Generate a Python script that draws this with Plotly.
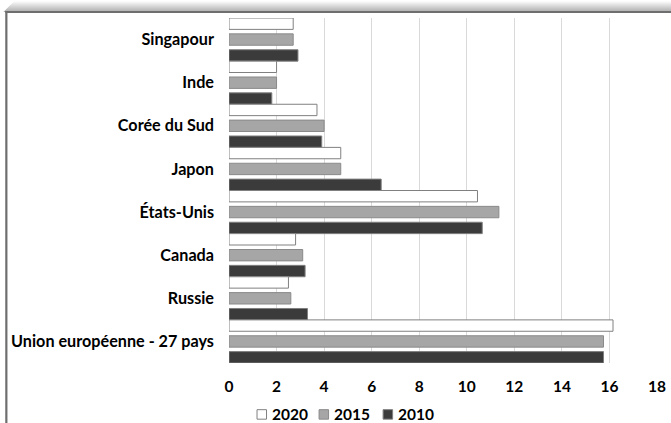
import plotly.graph_objects as go

# Pays (du bas vers le haut de l'axe)
pays = ["Union européenne - 27 pays", "Russie", "Canada", "États-Unis",
        "Japon", "Corée du Sud", "Inde", "Singapour"]

# Valeurs par année, même ordre que `pays`
v2010 = [15.75, 3.3, 3.2, 10.65, 6.4, 3.9, 1.8, 2.9]
v2015 = [15.75, 2.6, 3.1, 11.35, 4.7, 4.0, 2.0, 2.7]
v2020 = [16.15, 2.5, 2.8, 10.45, 4.7, 3.7, 2.0, 2.7]

annees = ["2010", "2015", "2020"]
series = [v2010, v2015, v2020]
fills = ["#3b3b3b", "#a6a6a6", "#ffffff"]
edges = ["#7f7f7f", "#8a8a8a", "#808080"]
offsets = [-0.5, -0.132, 0.236]
bar_w = 0.264

FONT = "Lato"
FS = 15.5

fig = go.Figure()
for name, vals, fc, ec, off in zip(annees, series, fills, edges, offsets):
    fig.add_trace(go.Bar(
        y=pays, x=vals, name=name, orientation="h",
        marker=dict(color=fc, line=dict(color=ec, width=1)),
        offset=off, width=bar_w, showlegend=False,
    ))

# Plot area geometry in pixels (used for frame and legend placement)
W, H = 671, 423
L, R, T, B = 229, 14.3, 18, 59.5
pw, ph = W - L - R, H - T - B


def px_x(x):
    return (x - L) / pw


def px_y(y):
    return (H - B - y) / ph


shapes = []
annotations = []
# soft shadow above the top border
for i in range(11):
    y0 = 1 + i
    op = 0.03 + 0.055 * i
    shapes.append(dict(type="rect", xref="paper", yref="paper",
                       x0=px_x(14 - i), x1=px_x(W + 5),
                       y0=px_y(y0 + 1), y1=px_y(y0),
                       fillcolor=f"rgba(120,120,120,{op:.2f})",
                       line=dict(width=0), layer="above"))
# top border
shapes.append(dict(type="line", xref="paper", yref="paper",
                   x0=px_x(5.5), x1=px_x(W + 5), y0=px_y(12), y1=px_y(12),
                   line=dict(color="#6e6e6e", width=2.2), layer="above"))
# left border
shapes.append(dict(type="line", xref="paper", yref="paper",
                   x0=px_x(6.5), x1=px_x(6.5), y0=px_y(11), y1=px_y(H + 5),
                   line=dict(color="#6e6e6e", width=2.2), layer="above"))

# legend: square swatch followed by the year, newest first
leg_y = 415
leg_x = [257, 319, 383]
sq = 9.5
for x0, name, fc, ec in zip(leg_x, annees[::-1], fills[::-1], edges[::-1]):
    shapes.append(dict(type="rect", xref="paper", yref="paper",
                       x0=px_x(x0), x1=px_x(x0 + sq),
                       y0=px_y(leg_y + sq / 2), y1=px_y(leg_y - sq / 2),
                       fillcolor=fc, line=dict(color=ec, width=1)))
    annotations.append(dict(text=name, xref="paper", yref="paper",
                            x=px_x(x0 + sq + 3), y=px_y(leg_y),
                            xanchor="left", yanchor="middle", showarrow=False,
                            font=dict(family=FONT, size=FS, color="black",
                                      weight="bold")))

fig.update_layout(
    width=W, height=H,
    margin=dict(l=L, r=R, t=T, b=B, pad=0, autoexpand=False),
    paper_bgcolor="white", plot_bgcolor="white",
    barmode="overlay",
    font=dict(family=FONT, size=FS, color="black", weight="bold"),
    showlegend=False,
    shapes=shapes,
    annotations=annotations,
)

fig.update_xaxes(range=[0, 18], dtick=2, tick0=0, showgrid=True,
                 gridcolor="#d9d9d9", gridwidth=1, zeroline=False,
                 showline=False, ticks="", ticklabelstandoff=12,
                 tickfont=dict(family=FONT, size=FS, color="black", weight="bold"))
fig.update_yaxes(categoryorder="array", categoryarray=pays,
                 range=[-0.5, 7.5], showgrid=False, zeroline=False,
                 showline=False, ticks="", ticklabelstandoff=14,
                 tickfont=dict(family=FONT, size=16.2, color="black", weight="bold"))

fig.write_html("out.html")
